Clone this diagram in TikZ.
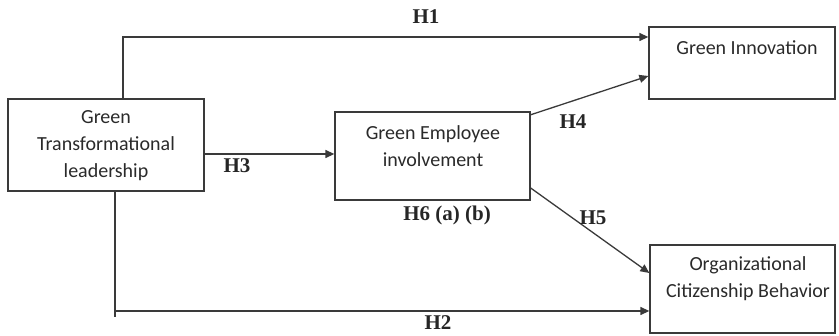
\documentclass[tikz,border=0pt]{standalone}
\usepackage{fontspec}
\setmainfont{Carlito}
\newfontfamily\labfont{Liberation Serif}
\usetikzlibrary{arrows.meta}
\definecolor{linec}{HTML}{3A3A3A}
\definecolor{textc}{HTML}{2A2A2A}
\begin{document}
\begin{tikzpicture}[x=1pt,y=-1pt,
  box/.style={draw=linec, line width=1.3pt, rectangle, inner sep=0pt},
  txt/.style={align=center, font=\fontsize{20}{27}\selectfont, inner sep=0pt, text=textc},
  hyp/.style={font=\labfont\bfseries\fontsize{21}{24}\selectfont, inner sep=0pt, text=black!85},
  conn/.style={draw=linec, line width=1.3pt},
  arr/.style={conn, -{Triangle[length=9pt,width=8pt]}}]
\useasboundingbox (0,0) rectangle (839,336);
% boxes
\node[box, minimum width=196pt, minimum height=92pt] (gtl) at (106,145) {};
\node[box, minimum width=195pt, minimum height=88pt] (gee) at (432.5,156) {};
\node[box, minimum width=186pt, minimum height=72pt] (gi) at (742,63) {};
\node[box, minimum width=185pt, minimum height=88pt] (ocb) at (742.5,289) {};
% texts
\node[txt] (tgtl) at (106,146) {Green\\Transformational\\leadership};
\node[txt] (tgee) at (433,146.5) {Green Employee\\involvement};
\node[txt] (tgi) at (747,48) {Green Innovation};
\node[txt] (tocb) at (748,279) {Organizational\\Citizenship Behavior};
% helper coordinates
\coordinate (h1c) at (123,37);
\coordinate (h3y) at (0,154);
\coordinate (h4s) at (530,115);
\coordinate (h4e) at (0,76);
\coordinate (h5s) at (0,188);
\coordinate (h5e) at (0,273);
\coordinate (h2x) at (115,317);
\coordinate (h2y) at (0,311);
% connectors
\draw[arr] (h1c |- gtl.north) -- (h1c) -- (h1c -| gi.west);
\draw[arr] (gtl.east |- h3y) -- (gee.west |- h3y);
\draw[arr] (h4s) -- (gi.west |- h4e);
\draw[arr] (gee.east |- h5s) -- (ocb.west |- h5e);
\draw[conn] (h2x |- gtl.south) -- (h2x);
\draw[arr] (h2x |- h2y) -- (ocb.west |- h2y);
% labels
\node[hyp] (l1) at (426,17) {H1};
\node[hyp] (l3) at (237,166) {H3};
\node[hyp] (l4) at (573,122) {H4};
\node[hyp] (l5) at (593,218) {H5};
\node[hyp] (l6) at (447,215) {H6 (a) (b)};
\node[hyp] (l2) at (438,323) {H2};
\end{tikzpicture}
\end{document}
